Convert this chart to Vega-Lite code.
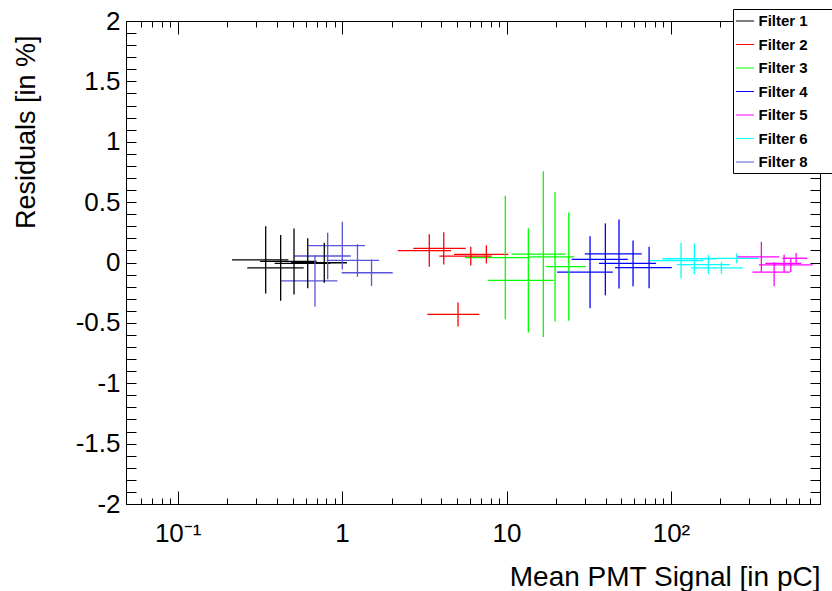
{
  "$schema": "https://vega.github.io/schema/vega-lite/v6.json",
  "width": 694,
  "height": 483,
  "autosize": {"type": "none"},
  "padding": {"left": 126, "top": 21, "right": 12, "bottom": 87},
  "background": "white",
  "config": {
    "view": {"stroke": "black", "strokeWidth": 1},
    "font": "Liberation Sans",
    "axis": {
      "domainColor": "black",
      "tickColor": "black",
      "labelColor": "black",
      "titleColor": "black",
      "labelFont": "Liberation Sans",
      "titleFont": "Liberation Sans",
      "labelFontSize": 26,
      "titleFontSize": 27,
      "titleFontWeight": "normal",
      "grid": false,
      "labelOverlap": false,
      "labelBound": false,
      "labelFlush": false
    }
  },
  "data": {
    "values": [
      {"f": "Filter 1", "x": 0.343, "xlo": 0.214, "xhi": 0.471, "y": 0.022, "ylo": -0.257, "yhi": 0.301},
      {"f": "Filter 1", "x": 0.423, "xlo": 0.265, "xhi": 0.584, "y": -0.045, "ylo": -0.317, "yhi": 0.227},
      {"f": "Filter 1", "x": 0.51, "xlo": 0.317, "xhi": 0.7, "y": 0.009, "ylo": -0.264, "yhi": 0.282},
      {"f": "Filter 1", "x": 0.618, "xlo": 0.389, "xhi": 0.847, "y": -0.007, "ylo": -0.214, "yhi": 0.2},
      {"f": "Filter 1", "x": 0.779, "xlo": 0.49, "xhi": 1.07, "y": -0.002, "ylo": -0.168, "yhi": 0.164},
      {"f": "Filter 8", "x": 0.684, "xlo": 0.425, "xhi": 0.935, "y": -0.152, "ylo": -0.366, "yhi": 0.062},
      {"f": "Filter 8", "x": 0.817, "xlo": 0.512, "xhi": 1.128, "y": 0.054, "ylo": -0.138, "yhi": 0.246},
      {"f": "Filter 8", "x": 1.003, "xlo": 0.623, "xhi": 1.378, "y": 0.14, "ylo": -0.057, "yhi": 0.337},
      {"f": "Filter 8", "x": 1.24, "xlo": 0.806, "xhi": 1.677, "y": 0.017, "ylo": -0.118, "yhi": 0.152},
      {"f": "Filter 8", "x": 1.51, "xlo": 0.994, "xhi": 2.03, "y": -0.085, "ylo": -0.195, "yhi": 0.025},
      {"f": "Filter 2", "x": 3.39, "xlo": 2.18, "xhi": 4.6, "y": 0.099, "ylo": -0.035, "yhi": 0.233},
      {"f": "Filter 2", "x": 4.15, "xlo": 2.71, "xhi": 5.65, "y": 0.117, "ylo": -0.016, "yhi": 0.25},
      {"f": "Filter 2", "x": 5.07, "xlo": 3.3, "xhi": 6.83, "y": -0.43, "ylo": -0.529, "yhi": -0.331},
      {"f": "Filter 2", "x": 6.06, "xlo": 3.9, "xhi": 8.13, "y": 0.053, "ylo": -0.024, "yhi": 0.13},
      {"f": "Filter 2", "x": 7.54, "xlo": 4.79, "xhi": 10.26, "y": 0.067, "ylo": -0.008, "yhi": 0.142},
      {"f": "Filter 3", "x": 9.83, "xlo": 5.59, "xhi": 13.9, "y": 0.041, "ylo": -0.471, "yhi": 0.553},
      {"f": "Filter 3", "x": 13.57, "xlo": 7.72, "xhi": 19.4, "y": -0.148, "ylo": -0.579, "yhi": 0.283},
      {"f": "Filter 3", "x": 16.74, "xlo": 10.75, "xhi": 22.7, "y": 0.07, "ylo": -0.616, "yhi": 0.756},
      {"f": "Filter 3", "x": 19.72, "xlo": 13.9, "xhi": 25.7, "y": 0.047, "ylo": -0.489, "yhi": 0.583},
      {"f": "Filter 3", "x": 23.9, "xlo": 17.4, "xhi": 30.4, "y": -0.034, "ylo": -0.483, "yhi": 0.415},
      {"f": "Filter 4", "x": 32.2, "xlo": 20.3, "xhi": 44.3, "y": -0.08, "ylo": -0.378, "yhi": 0.218},
      {"f": "Filter 4", "x": 39.9, "xlo": 24.9, "xhi": 54.6, "y": 0.026, "ylo": -0.272, "yhi": 0.324},
      {"f": "Filter 4", "x": 48.3, "xlo": 29.9, "xhi": 66.4, "y": 0.071, "ylo": -0.215, "yhi": 0.357},
      {"f": "Filter 4", "x": 58.8, "xlo": 36.5, "xhi": 81.1, "y": -0.007, "ylo": -0.197, "yhi": 0.183},
      {"f": "Filter 4", "x": 73.6, "xlo": 45.7, "xhi": 101.1, "y": -0.042, "ylo": -0.214, "yhi": 0.13},
      {"f": "Filter 6", "x": 115.2, "xlo": 73.7, "xhi": 156.7, "y": 0.016, "ylo": -0.131, "yhi": 0.163},
      {"f": "Filter 6", "x": 138.8, "xlo": 88.8, "xhi": 188.8, "y": 0.031, "ylo": -0.096, "yhi": 0.158},
      {"f": "Filter 6", "x": 168.9, "xlo": 108.5, "xhi": 228.8, "y": -0.017, "ylo": -0.096, "yhi": 0.062},
      {"f": "Filter 6", "x": 202.6, "xlo": 132, "xhi": 273.4, "y": -0.045, "ylo": -0.093, "yhi": 0.003},
      {"f": "Filter 6", "x": 251.3, "xlo": 161, "xhi": 342, "y": 0.034, "ylo": -0.007, "yhi": 0.075},
      {"f": "Filter 5", "x": 354.6, "xlo": 252.7, "xhi": 455, "y": 0.047, "ylo": -0.077, "yhi": 0.171},
      {"f": "Filter 5", "x": 424, "xlo": 312.7, "xhi": 530, "y": -0.08, "ylo": -0.196, "yhi": 0.002},
      {"f": "Filter 5", "x": 487.5, "xlo": 375, "xhi": 620, "y": -0.007, "ylo": -0.079, "yhi": 0.065},
      {"f": "Filter 5", "x": 535.6, "xlo": 343, "xhi": 728, "y": -0.02, "ylo": -0.078, "yhi": 0.038},
      {"f": "Filter 5", "x": 577, "xlo": 476, "xhi": 676, "y": 0.035, "ylo": -0.008, "yhi": 0.078}
    ]
  },
  "layer": [
    {
      "mark": {"type": "rule", "strokeWidth": 1.3},
      "encoding": {
        "x": {
          "field": "xlo", "type": "quantitative",
          "scale": {"type": "log", "domain": [0.0485, 806], "nice": false},
          "axis": {
            "orient": "bottom",
            "values": [0.06, 0.07, 0.08, 0.09, 0.1, 0.2, 0.3, 0.4, 0.5, 0.6, 0.7, 0.8, 0.9, 1, 2, 3, 4, 5, 6, 7, 8, 9, 10, 20, 30, 40, 50, 60, 70, 80, 90, 100, 200, 300, 400, 500, 600, 700],
            "labelExpr": "datum.value == 0.1 ? '10⁻¹' : datum.value == 1 ? '1' : datum.value == 10 ? '10' : datum.value == 100 ? '10²' : ''",
            "tickSize": {"condition": {"test": "datum.value == 0.1 || datum.value == 1 || datum.value == 10 || datum.value == 100", "value": -13}, "value": -6},
            "labelPadding": 29,
            "labelBaseline": "top",
            "title": "Mean PMT Signal [in pC]",
            "titleFontSize": 28,
            "titleX": 694,
            "titleY": 81,
            "titleAlign": "right",
            "titleBaseline": "alphabetic",
            "titleAnchor": "end"
          }
        },
        "x2": {"field": "xhi"},
        "y": {
          "field": "y", "type": "quantitative",
          "scale": {"domain": [-2, 2], "nice": false, "zero": false},
          "axis": {
            "orient": "left",
            "values": [-2, -1.9, -1.8, -1.7, -1.6, -1.5, -1.4, -1.3, -1.2, -1.1, -1, -0.9, -0.8, -0.7, -0.6, -0.5, -0.4, -0.3, -0.2, -0.1, 0, 0.1, 0.2, 0.3, 0.4, 0.5, 0.6, 0.7, 0.8, 0.9, 1, 1.1, 1.2, 1.3, 1.4, 1.5, 1.6, 1.7, 1.8, 1.9, 2],
            "labelExpr": "abs(datum.value * 2 - round(datum.value * 2)) < 0.001 ? toString(datum.value) : ''",
            "tickSize": -10,
            "labelPadding": 16,
            "title": "Residuals [in %]",
            "titleAngle": -90,
            "titleX": -92,
            "titleY": 14,
            "titleAlign": "right",
            "titleBaseline": "alphabetic",
            "titleAnchor": "end"
          }
        },
        "color": {
          "field": "f", "type": "nominal",
          "scale": {
            "domain": ["Filter 1", "Filter 2", "Filter 3", "Filter 4", "Filter 5", "Filter 6", "Filter 8"],
            "range": ["#000000", "#ff0000", "#00ff00", "#0000ff", "#ff00ff", "#00ffff", "#5954d8"]
          },
          "legend": {
            "orient": "none",
            "legendX": 607,
            "legendY": -12,
            "title": null,
            "symbolType": "stroke",
            "symbolSize": 324,
            "symbolStrokeWidth": 1,
            "labelFont": "Liberation Sans",
            "labelFontWeight": "bold",
            "labelFontSize": 15,
            "labelColor": "black",
            "labelOffset": 4,
            "labelExpr": "datum.label + '\u00a0\u00a0\u00a0\u00a0\u00a0\u00a0\u200b'",
            "rowPadding": 5.5,
            "padding": 2.5,
            "strokeColor": "black",
            "fillColor": "white",
            "cornerRadius": 0
          }
        }
      }
    },
    {
      "mark": {"type": "rule", "strokeWidth": 1.3},
      "encoding": {
        "x": {
          "field": "x", "type": "quantitative",
          "axis": {
            "orient": "top",
            "values": [0.06, 0.07, 0.08, 0.09, 0.1, 0.2, 0.3, 0.4, 0.5, 0.6, 0.7, 0.8, 0.9, 1, 2, 3, 4, 5, 6, 7, 8, 9, 10, 20, 30, 40, 50, 60, 70, 80, 90, 100, 200, 300, 400, 500, 600, 700],
            "labels": false,
            "title": null,
            "tickSize": {"condition": {"test": "datum.value == 0.1 || datum.value == 1 || datum.value == 10 || datum.value == 100", "value": -13}, "value": -6}
          }
        },
        "y": {
          "field": "ylo", "type": "quantitative",
          "axis": {
            "orient": "right",
            "values": [-2, -1.9, -1.8, -1.7, -1.6, -1.5, -1.4, -1.3, -1.2, -1.1, -1, -0.9, -0.8, -0.7, -0.6, -0.5, -0.4, -0.3, -0.2, -0.1, 0, 0.1, 0.2, 0.3, 0.4, 0.5, 0.6, 0.7, 0.8, 0.9, 1, 1.1, 1.2, 1.3, 1.4, 1.5, 1.6, 1.7, 1.8, 1.9, 2],
            "labels": false,
            "title": null,
            "tickSize": -10
          }
        },
        "y2": {"field": "yhi"},
        "color": {"field": "f", "type": "nominal"}
      }
    }
  ],
  "resolve": {"axis": {"x": "independent", "y": "independent"}}
}
